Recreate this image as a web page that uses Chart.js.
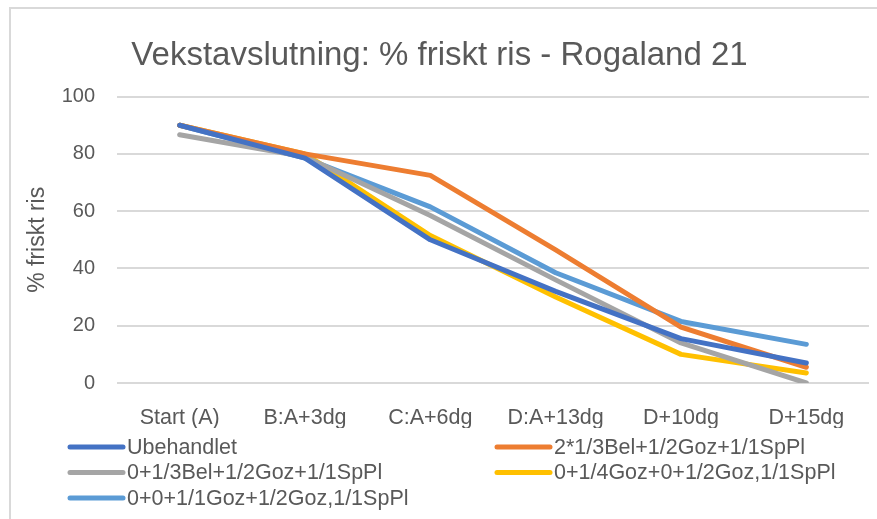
<!DOCTYPE html>
<html>
<head>
<meta charset="utf-8">
<script src="https://cdn.jsdelivr.net/npm/chart.js@4.4.1/dist/chart.umd.min.js"></script>
<style>
  html, body { margin: 0; padding: 0; background: #fff; }
  #wrap { position: relative; width: 877px; height: 519px; overflow: hidden; }
  #frame { position: absolute; left: 9px; top: 7px; width: 900px; height: 600px; border: 2px solid #d9d9d9; }
  #c { position: absolute; left: 0; top: 0; }
</style>
</head>
<body>
<div id="wrap">
  <div id="frame"></div>
  <canvas id="c" width="877" height="519"></canvas>
</div>
<script>
var categories = ["Start (A)", "B:A+3dg", "C:A+6dg", "D:A+13dg", "D+10dg", "D+15dg"];
var seriesNames = [
    "Ubehandlet",
    "2*1/3Bel+1/2Goz+1/1SpPl",
    "0+1/3Bel+1/2Goz+1/1SpPl",
    "0+1/4Goz+0+1/2Goz,1/1SpPl",
    "0+0+1/1Goz+1/2Goz,1/1SpPl"
];
var ubehandlet = [90, 78.5, 50, 32, 15.5, 7];
var bel2 = [90, 80, 72.5, 46.5, 19.5, 5.5];
var bel1 = [86.7, 79, 58.5, 36, 14, 0];
var goz4 = [90, 80, 51.5, 30, 10, 3.5];
var goz1 = [90, 78.5, 61.5, 38.5, 21.5, 13.5];
var yTicks = [0, 20, 40, 60, 80, 100];
var colors = ["#4472C4", "#ED7D31", "#A5A5A5", "#FFC000", "#5B9BD5"];

var font = "'Liberation Sans', Arial, sans-serif";
var allSeries = [ubehandlet, bel2, bel1, goz4, goz1];

var datasets = [];
for (var i = 0; i < allSeries.length; i++) {
    datasets.push({
        label: seriesNames[i],
        data: allSeries[i],
        borderColor: colors[i],
        backgroundColor: colors[i],
        borderWidth: 5,
        pointRadius: 0,
        tension: 0,
        borderCapStyle: "round",
        borderJoinStyle: "round"
    });
}

// two-column legend at the bottom, like the Excel original
var columnLegend = {
    id: "columnLegend",
    afterDraw: function(chart) {
        var ctx = chart.ctx;
        var cols = [68, 495];
        var rows = [447, 472.5, 498];
        ctx.save();
        ctx.font = "21.5px " + font;
        ctx.textBaseline = "middle";
        chart.data.datasets.forEach(function(ds, i) {
            var x = cols[i % 2];
            var y = rows[Math.floor(i / 2)];
            ctx.strokeStyle = ds.borderColor;
            ctx.lineWidth = 5;
            ctx.lineCap = "round";
            ctx.beginPath();
            ctx.moveTo(x + 2, y);
            ctx.lineTo(x + 55, y);
            ctx.stroke();
            ctx.fillStyle = "#595959";
            ctx.fillText(ds.label, x + 59, y + 1);
        });
        ctx.restore();
    }
};

var ctx = document.getElementById("c").getContext("2d");
var myChart = new Chart(ctx, {
    type: "line",
    data: { labels: categories, datasets: datasets },
    plugins: [columnLegend],
    options: {
        responsive: false,
        animation: false,
        layout: { padding: { left: 10, right: 8, top: 0, bottom: 91 } },
        plugins: {
            legend: { display: false },
            tooltip: { enabled: false },
            title: {
                display: true,
                text: "Vekstavslutning: % friskt ris - Rogaland 21",
                color: "#595959",
                font: { family: font, size: 33, weight: "normal" },
                padding: { top: 36, bottom: 21 }
            }
        },
        scales: {
            x: {
                offset: true,
                grid: { display: false },
                border: { display: false },
                ticks: { color: "#595959", font: { family: font, size: 21.5 }, padding: 14, maxRotation: 0 },
                afterFit: function(scale) { scale.height = 45; }
            },
            y: {
                min: 0,
                max: 100,
                afterBuildTicks: function(scale) {
                    scale.ticks = yTicks.map(function(v) { return { value: v }; });
                },
                grid: { color: "#d9d9d9", lineWidth: 2, drawTicks: false },
                border: { display: false },
                ticks: { color: "#595959", font: { family: font, size: 20 }, padding: 22 },
                title: {
                    display: true,
                    text: "% friskt ris",
                    color: "#595959",
                    font: { family: font, size: 23 },
                    padding: { top: 14, bottom: 0 }
                },
                afterFit: function(scale) { scale.width = 107; }
            }
        }
    }
});
</script>
</body>
</html>
